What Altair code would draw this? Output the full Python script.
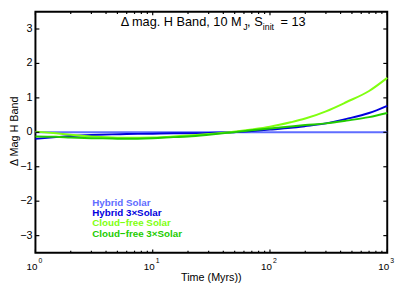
import altair as alt
import pandas as pd

# ---- data ----
time = [1, 1.5, 2, 3, 4.5, 6, 10, 15, 20, 30, 45, 70, 100, 150, 200, 300, 450, 700, 1000]
hybrid_solar = [0, 0, 0, 0, 0, 0, 0, 0, 0, 0, 0, 0, 0, 0, 0, 0, 0, 0, 0]
hybrid_3x = [-0.19, -0.14, -0.11, -0.08, -0.06, -0.05, -0.04, -0.03, -0.03, -0.02, 0.0, 0.04, 0.08, 0.13, 0.18, 0.26, 0.39, 0.56, 0.77]
cloudfree_solar = [0.02, -0.03, -0.07, -0.12, -0.15, -0.16, -0.15, -0.12, -0.09, -0.05, 0.0, 0.08, 0.16, 0.29, 0.40, 0.61, 0.88, 1.20, 1.58]
cloudfree_3x = [-0.12, -0.13, -0.15, -0.17, -0.18, -0.19, -0.17, -0.14, -0.12, -0.07, -0.01, 0.06, 0.11, 0.17, 0.21, 0.26, 0.34, 0.44, 0.56]

series_names = ["Hybrid Solar", "Hybrid 3\u00d7Solar", "Cloud\u2212free Solar", "Cloud\u2212free 3\u00d7Solar"]
series_colors = ["#5f6dff", "#0000dd", "#80ff10", "#22cc00"]
series_values = [hybrid_solar, hybrid_3x, cloudfree_solar, cloudfree_3x]

y_ticks = [-3, -2, -1, 0, 1, 2, 3]
y_labels = ["\u22123", "\u22122", "\u22121", "0", "1", "2", "3"]
x_major = [1, 10, 100, 1000]
x_exp = ["0", "1", "2", "3"]
x_minor = [2, 3, 4, 5, 6, 7, 8, 9, 20, 30, 40, 50, 60, 70, 80, 90, 200, 300, 400, 500, 600, 700, 800, 900]

W, H = 359, 246
FONT = "Liberation Sans"

rows = []
for name, vals in zip(series_names, series_values):
    for t, v in zip(time, vals):
        rows.append({"time": t, "dmag": v, "series": name})
df = pd.DataFrame(rows)

xs = alt.Scale(type="log", domain=[1, 1000], nice=False)
ys = alt.Scale(domain=[-3.5, 3.5], nice=False, zero=False)

layers = []
for name, col in zip(series_names, series_colors):
    layers.append(
        alt.Chart(df).transform_filter(alt.datum.series == name)
        .mark_line(color=col, strokeWidth=2, interpolate="monotone")
        .encode(x=alt.X("time:Q", scale=xs, axis=None),
                y=alt.Y("dmag:Q", scale=ys, axis=None))
    )

# tick marks (inward, mirrored)
ydf = pd.DataFrame({"v": y_ticks, "lab": y_labels})
layers.append(alt.Chart(ydf).mark_rule(color="black", strokeWidth=1.2)
              .encode(y=alt.Y("v:Q", scale=ys, axis=None), x=alt.value(0), x2=alt.value(4)))
layers.append(alt.Chart(ydf).mark_rule(color="black", strokeWidth=1.2)
              .encode(y=alt.Y("v:Q", scale=ys, axis=None), x=alt.value(W - 4), x2=alt.value(W)))
layers.append(alt.Chart(ydf).mark_text(align="right", baseline="middle", fontSize=11, font=FONT, color="black")
              .encode(y=alt.Y("v:Q", scale=ys, axis=None), x=alt.value(-3), text="lab:N"))

xmj = pd.DataFrame({"t": x_major, "base": ["10"] * 4, "exp": x_exp})
xmn = pd.DataFrame({"t": x_minor})
for d, L in [(xmj, 3.5), (xmn, 2.2)]:
    layers.append(alt.Chart(d).mark_rule(color="black", strokeWidth=1.2)
                  .encode(x=alt.X("t:Q", scale=xs, axis=None), y=alt.value(H - L), y2=alt.value(H)))
    layers.append(alt.Chart(d).mark_rule(color="black", strokeWidth=1.2)
                  .encode(x=alt.X("t:Q", scale=xs, axis=None), y=alt.value(0), y2=alt.value(L)))

# x tick labels 10^n
layers.append(alt.Chart(xmj).mark_text(align="right", baseline="alphabetic", dx=2, fontSize=10, font=FONT, color="black")
              .encode(x=alt.X("t:Q", scale=xs, axis=None), y=alt.value(H + 17), text="base:N"))
layers.append(alt.Chart(xmj).mark_text(align="left", baseline="alphabetic", dx=3, fontSize=7, font=FONT, color="black")
              .encode(x=alt.X("t:Q", scale=xs, axis=None), y=alt.value(H + 10.5), text="exp:N"))

# titles
def txt(s, x, y, size, **kw):
    return alt.Chart(pd.DataFrame({"s": [s]})).mark_text(font=FONT, fontSize=size, color=kw.pop("color", "black"), **kw).encode(
        x=alt.value(x), y=alt.value(y), text="s:N")

ty = 15
layers.append(txt("\u0394 mag. H Band, 10 M", 87, ty, 13, align="left", baseline="alphabetic"))
layers.append(txt("J", 212, ty + 3.5, 9, align="left", baseline="alphabetic"))
layers.append(txt(", S", 216, ty, 13, align="left", baseline="alphabetic"))
layers.append(txt("init", 232, ty + 3.5, 9, align="left", baseline="alphabetic"))
layers.append(txt("= 13", 250, ty, 13, align="left", baseline="alphabetic"))

layers.append(txt("\u0394 Mag H Band", -21, 122, 11, align="center", baseline="middle", angle=270))
layers.append(txt("Time (Myrs))", W / 2, H + 29, 11, align="center", baseline="alphabetic"))

# legend text
leg_y = [198, 208.5, 219, 229.5]
for name, col, yy in zip(series_names, series_colors, leg_y):
    layers.append(txt(name, 58, yy, 10, align="left", baseline="alphabetic", fontWeight="bold", color=col))

chart = alt.layer(*layers).properties(
    width=W, height=H,
    padding={"left": 28, "top": 1, "right": 12, "bottom": 32},
    autosize=alt.AutoSizeParams(type="none"),
).configure_view(stroke="black", strokeWidth=2)

chart.save("out.html", embed_options={"renderer": "svg", "actions": False})
